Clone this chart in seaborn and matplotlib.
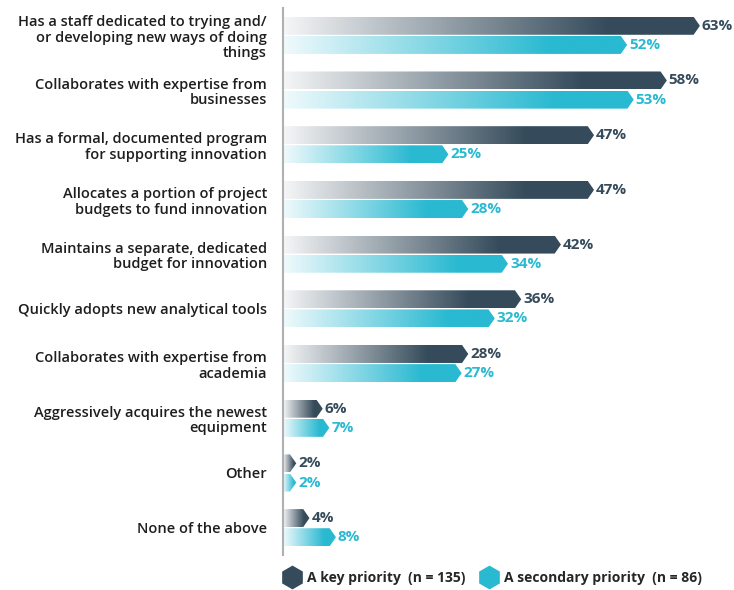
import numpy as np
import pandas as pd
import matplotlib
matplotlib.use('Agg')
import matplotlib.pyplot as plt
from matplotlib.colors import LinearSegmentedColormap
from matplotlib.patches import Polygon
from matplotlib.lines import Line2D
import seaborn as sns

CATEGORIES = [
    'Has a staff dedicated to trying and/\nor developing new ways of doing\nthings',
    'Collaborates with expertise from\nbusinesses',
    'Has a formal, documented program\nfor supporting innovation',
    'Allocates a portion of project\nbudgets to fund innovation',
    'Maintains a separate, dedicated\nbudget for innovation',
    'Quickly adopts new analytical tools',
    'Collaborates with expertise from\nacademia',
    'Aggressively acquires the newest\nequipment',
    'Other',
    'None of the above',
]
KEY_PRIORITY = [63, 58, 47, 47, 42, 36, 28, 6, 2, 4]
SECONDARY_PRIORITY = [52, 53, 25, 28, 34, 32, 27, 7, 2, 8]
SERIES = ['A key priority  (n = 135)', 'A secondary priority  (n = 86)']

DARK = '#354b5b'
CYAN = '#29b9d1'
COLORS = [DARK, CYAN]
CMAPS = [
    LinearSegmentedColormap.from_list('dk', [(0, '#f5f6f7'), (0.78, DARK), (1, DARK)]),
    LinearSegmentedColormap.from_list('cy', [(0, '#f0fafc'), (0.78, CYAN), (1, CYAN)]),
]

sns.set_style('white')
plt.rcParams['font.family'] = ['Open Sans', 'DejaVu Sans']

df = pd.DataFrame({
    'category': CATEGORIES * 2,
    'value': KEY_PRIORITY + SECONDARY_PRIORITY,
    'series': [SERIES[0]] * len(CATEGORIES) + [SERIES[1]] * len(CATEGORIES),
})

fig = plt.figure(figsize=(7.34, 5.90), dpi=100)
ax = fig.add_axes([283 / 734, 35 / 590, 450 / 734, 547 / 590])
sns.barplot(data=df, x='value', y='category', hue='series', orient='h',
            palette=COLORS, width=0.7, gap=0.06, legend=False, ax=ax)

# swap the flat bars for gradient bars with a pointed tip
tip = 0.95
grad = np.linspace(0, 1, 256).reshape(1, -1)
for si, cont in enumerate(ax.containers):
    for bar, val in zip(cont, [KEY_PRIORITY, SECONDARY_PRIORITY][si]):
        x0, y0 = bar.get_x(), bar.get_y()
        w, h = bar.get_width(), bar.get_height()
        bar.set_visible(False)
        t = min(tip, w * 0.6)
        pts = [(x0, y0), (x0 + w - t, y0), (x0 + w, y0 + h / 2),
               (x0 + w - t, y0 + h), (x0, y0 + h)]
        poly = Polygon(pts, closed=True, facecolor='none', edgecolor='none')
        ax.add_patch(poly)
        im = ax.imshow(grad, cmap=CMAPS[si], aspect='auto',
                       extent=(x0, x0 + w, y0 + h, y0), interpolation='bilinear',
                       zorder=2)
        im.set_clip_path(poly)
        ax.text(x0 + w + 0.3, y0 + h / 2, f'{val}%', va='center', ha='left',
                color=COLORS[si], fontsize=11, fontweight='bold')

ax.set_xlim(0, 68)
ax.set_ylim(len(CATEGORIES) - 0.5, -0.5)
ax.set_xlabel('')
ax.set_ylabel('')
ax.set_xticks([])
ax.tick_params(axis='y', length=0, pad=11.5)
ax.set_yticklabels(CATEGORIES, fontsize=10.5, fontweight='semibold', color='#1e1e1e',
                   linespacing=1.15)
for s in ['top', 'right', 'bottom']:
    ax.spines[s].set_visible(False)
ax.spines['left'].set_color('#b0b0b0')
ax.spines['left'].set_linewidth(1.5)

handles = [Line2D([], [], marker='h', linestyle='none', markersize=16,
                  markerfacecolor=c, markeredgecolor=c) for c in COLORS]
fig.legend(handles, SERIES, loc='center', bbox_to_anchor=(490 / 734, 1 - 578 / 590),
           ncol=2, frameon=False, handletextpad=0.05, columnspacing=0.7,
           prop={'weight': 'bold', 'size': 10})

plt.savefig('out.png', dpi=100)
